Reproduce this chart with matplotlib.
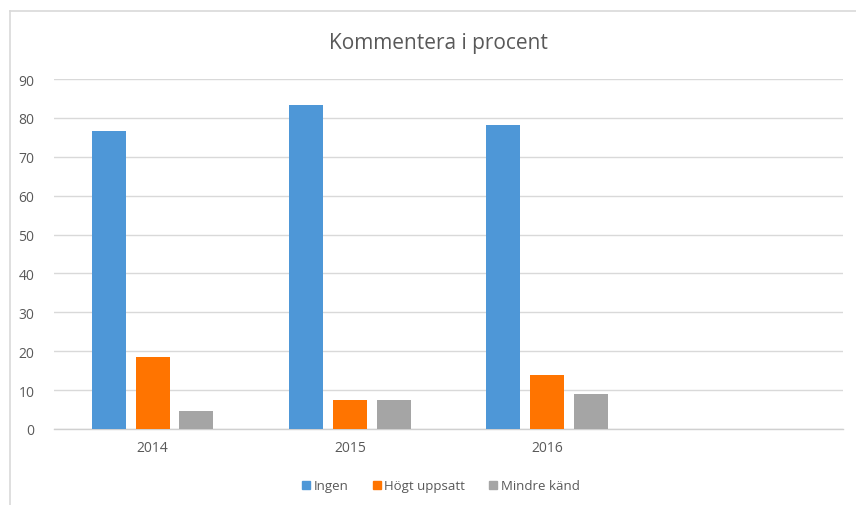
import matplotlib
matplotlib.use("Agg")
import matplotlib.pyplot as plt
from matplotlib.lines import Line2D
import numpy as np

plt.rcParams['font.family'] = ['Open Sans', 'DejaVu Sans']

categories = ["2014", "2015", "2016", ""]
series_names = ["Ingen", "Högt uppsatt", "Mindre känd"]
ingen = [76.7, 83.4, 78.2, None]
hogt = [18.6, 7.5, 14.0, None]
mindre = [4.7, 7.5, 8.9, None]
colors = ["#4E97D7", "#FF7400", "#A5A5A5"]
yticks = [0, 10, 20, 30, 40, 50, 60, 70, 80, 90]

fig = plt.figure(figsize=(8.56, 5.06), dpi=100)
ax = fig.add_axes([54/856, 1-430/506, (843-54)/856, 350/506])

x = np.arange(len(categories))
slot = 0.222
width = 0.173
for i, (vals, name, c) in enumerate(zip([ingen, hogt, mindre], series_names, colors)):
    xs = [xx + (i-1)*slot for xx, v in zip(x, vals) if v is not None]
    vs = [v for v in vals if v is not None]
    ax.bar(xs, vs, width=width, color=c, label=name, zorder=3)

ax.set_xlim(-0.5, len(categories)-0.5)
ax.set_ylim(0, 90)
ax.set_yticks(yticks)
ax.set_xticks(x)
ax.set_xticklabels(categories)
ax.grid(axis='y', color='#D9D9D9', linewidth=1.0, zorder=0)
for s in ['top', 'right', 'left']:
    ax.spines[s].set_visible(False)
ax.spines['bottom'].set_color('#D0D0D0')
ax.spines['bottom'].set_linewidth(1.0)
ax.tick_params(axis='both', length=0, colors='#595959', labelsize=10)
ax.tick_params(axis='y', pad=14)
ax.tick_params(axis='x', pad=8)

fig.text(438/856, 1-44/506, "Kommentera i procent", ha='center', va='center',
         fontsize=15, color='#595959')

handles = [plt.Rectangle((0, 0), 1, 1, color=c) for c in colors]
fig.legend(handles, series_names, loc='center', bbox_to_anchor=(441/856, 1-487/506),
           ncol=3, frameon=False, fontsize=9.5, labelcolor='#595959',
           handlelength=0.6, handleheight=0.6, handletextpad=0.3, columnspacing=1.8)

# chart border (left and top visible)
fig.add_artist(Line2D([10/856, 10/856], [0, 1-12/506], transform=fig.transFigure,
                      color='#D9D9D9', linewidth=1.2))
fig.add_artist(Line2D([10/856, 1], [1-12/506, 1-12/506], transform=fig.transFigure,
                      color='#D9D9D9', linewidth=1.2))

fig.savefig("out.png", dpi=100)
